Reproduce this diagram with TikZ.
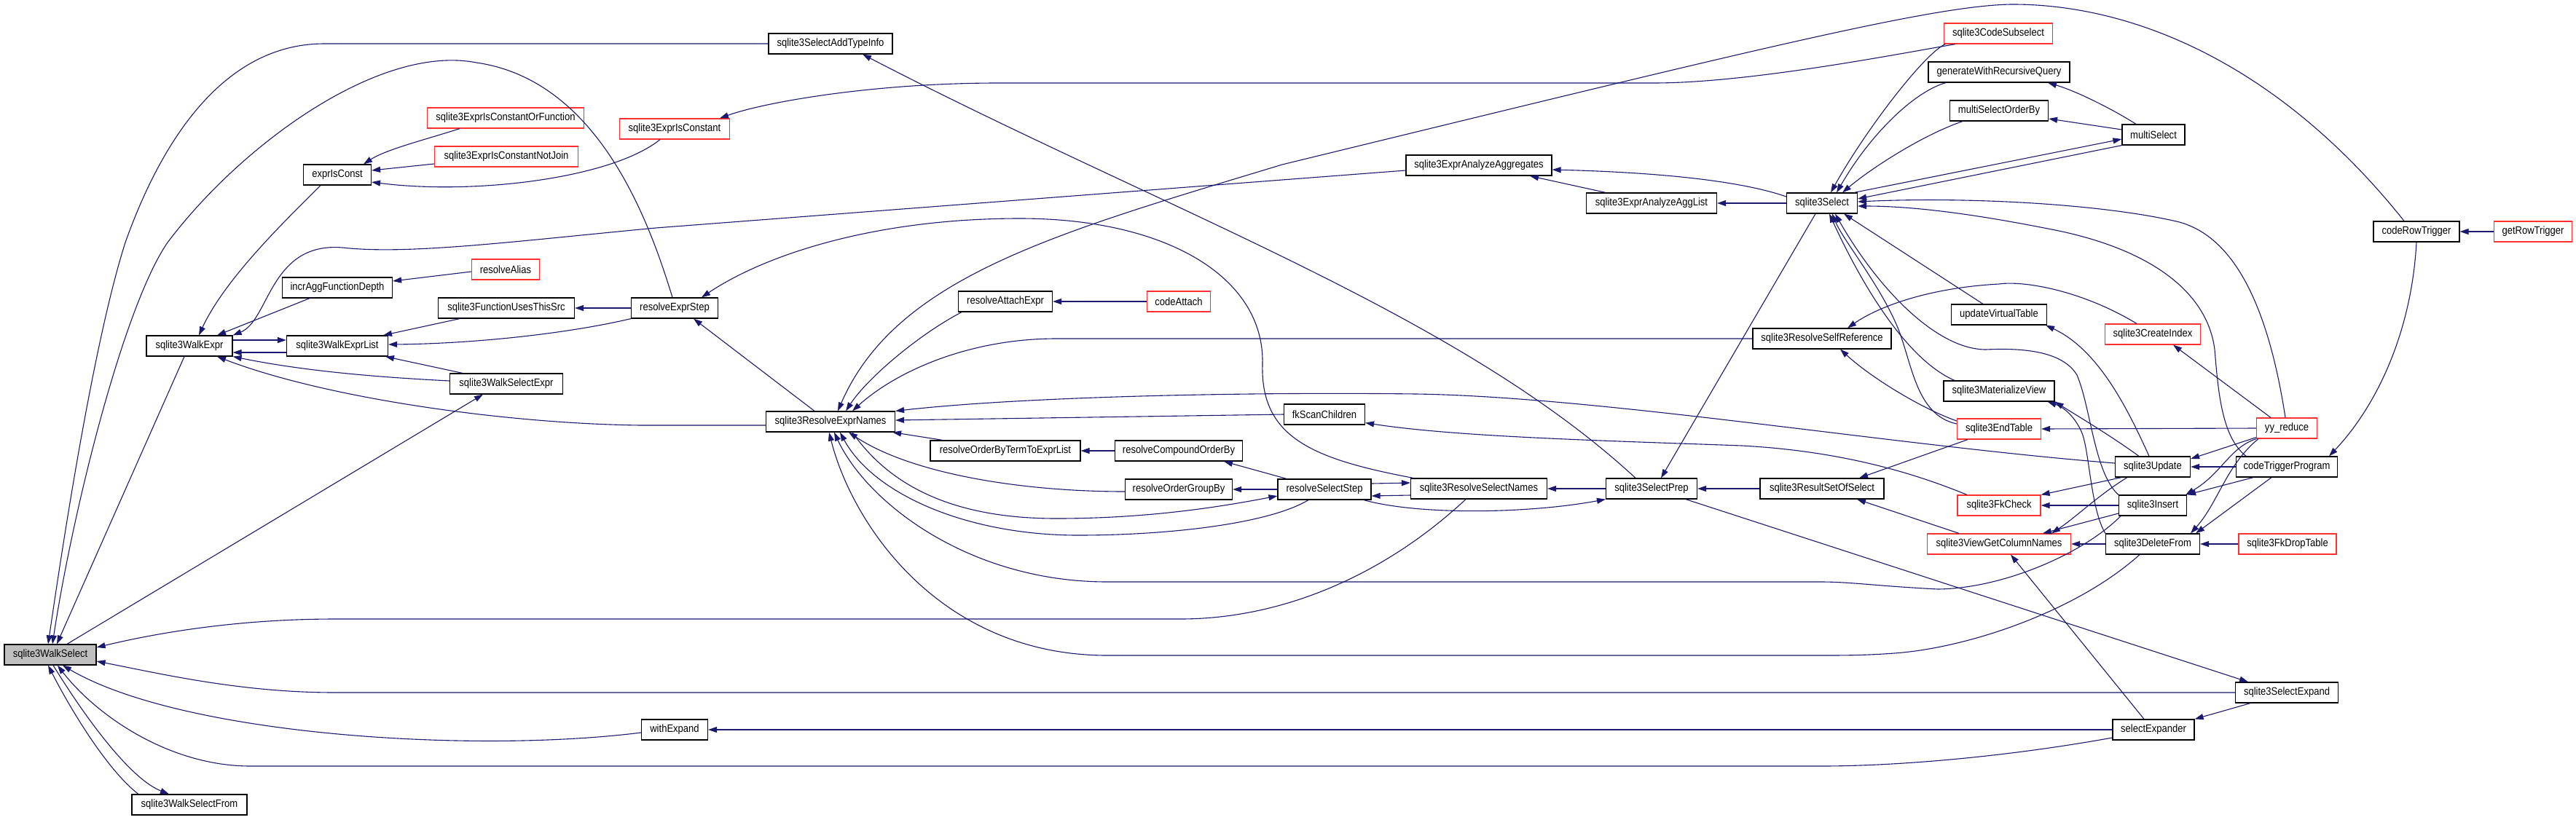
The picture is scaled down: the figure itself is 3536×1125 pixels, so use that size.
\documentclass[tikz,border=0pt]{standalone}
\usepackage{fontspec}
\setmainfont{Liberation Sans}[FakeStretch=0.88]
\usetikzlibrary{arrows.meta}
\definecolor{navy}{HTML}{191970}
\definecolor{nred}{HTML}{FF3030}
\definecolor{ngray}{HTML}{BFBFBF}
\tikzset{
 nb/.style={draw=black, fill=white, line width=1.2pt, minimum height=28pt, inner sep=0pt, font=\fontsize{14.8}{16}\selectfont},
 nr/.style={nb, draw=nred},
 e/.style={draw=navy, line width=1.1pt, -{Triangle[length=12pt,width=8pt]}}
}
\begin{document}
\begin{tikzpicture}[x=1pt,y=-1pt]
\fill[white] (0,0) rectangle (3536,1125);
\useasboundingbox (0,0) rectangle (3536,1125);
% nodes
\node[nb, fill=ngray, minimum width=126pt] (ws) at (69,899) {sqlite3WalkSelect};
\node[nb, minimum width=158pt] (wsf) at (260,1105) {sqlite3WalkSelectFrom};
\node[nb, minimum width=118pt] (we) at (260,475) {sqlite3WalkExpr};
\node[nb, minimum width=93pt] (eic) at (463,240) {exprIsConst};
\node[nb, minimum width=151pt] (iafd) at (463,395) {incrAggFunctionDepth};
\node[nb, minimum width=139pt] (wel) at (463,475) {sqlite3WalkExprList};
\node[nr, minimum width=215pt] (cof) at (694,162) {sqlite3ExprIsConstantOrFunction};
\node[nr, minimum width=197pt] (cnj) at (695,215) {sqlite3ExprIsConstantNotJoin};
\node[nr, minimum width=93pt] (ra) at (694,370) {resolveAlias};
\node[nb, minimum width=187pt] (futs) at (695,423) {sqlite3FunctionUsesThisSrc};
\node[nb, minimum width=155pt] (wse) at (695,527) {sqlite3WalkSelectExpr};
\node[nr, minimum width=151pt] (eicn) at (926,177) {sqlite3ExprIsConstant};
\node[nb, minimum width=119pt] (res) at (926,423) {resolveExprStep};
\node[nb, minimum width=91pt] (wex) at (926,1002) {withExpand};
\node[nb, minimum width=170pt] (sat) at (1140,60) {sqlite3SelectAddTypeInfo};
\node[nb, minimum width=177pt] (ren) at (1140,579) {sqlite3ResolveExprNames};
\node[nb, minimum width=129pt] (rae) at (1380,414) {resolveAttachExpr};
\node[nb, minimum width=206pt] (robt) at (1380,619) {resolveOrderByTermToExprList};
\node[nr, minimum width=87pt] (ca) at (1618,414) {codeAttach};
\node[nb, minimum width=175pt] (rcob) at (1618,619) {resolveCompoundOrderBy};
\node[nb, minimum width=147pt] (rogb) at (1618,672) {resolveOrderGroupBy};
\node[nb, minimum width=111pt] (fksc) at (1818,569) {fkScanChildren};
\node[nb, minimum width=128pt] (rss) at (1818,672) {resolveSelectStep};
\node[nb, minimum width=200pt] (agg) at (2030,227) {sqlite3ExprAnalyzeAggregates};
\node[nb, minimum width=187pt] (rsn) at (2030,671) {sqlite3ResolveSelectNames};
\node[nb, minimum width=179pt] (agl) at (2267,279) {sqlite3ExprAnalyzeAggList};
\node[nb, minimum width=125pt] (sp) at (2267,671) {sqlite3SelectPrep};
\node[nb, minimum width=97pt] (sel) at (2501,279) {sqlite3Select};
\node[nb, minimum width=190pt] (rsr) at (2501,465) {sqlite3ResolveSelfReference};
\node[nb, minimum width=170pt] (rsos) at (2501,671) {sqlite3ResultSetOfSelect};
\node[nr, minimum width=149pt] (csub) at (2743,46) {sqlite3CodeSubselect};
\node[nb, minimum width=194pt] (gwr) at (2744,99) {generateWithRecursiveQuery};
\node[nb, minimum width=135pt] (msob) at (2744,152) {multiSelectOrderBy};
\node[nb, minimum width=86pt] (msel) at (2956,185) {multiSelect};
\node[nb, minimum width=131pt] (uvt) at (2744,432) {updateVirtualTable};
\node[nr, minimum width=131pt] (ci) at (2955,459) {sqlite3CreateIndex};
\node[nb, minimum width=152pt] (mv) at (2744,537) {sqlite3MaterializeView};
\node[nr, minimum width=115pt] (et) at (2744,589) {sqlite3EndTable};
\node[nr, minimum width=83pt] (yy) at (3139,588) {yy\_reduce};
\node[nb, minimum width=103pt] (upd) at (2955,641) {sqlite3Update};
\node[nb, minimum width=139pt] (ctp) at (3139,641) {codeTriggerProgram};
\node[nr, minimum width=114pt] (fkc) at (2744,694) {sqlite3FkCheck};
\node[nb, minimum width=93pt] (ins) at (2955,694) {sqlite3Insert};
\node[nr, minimum width=197pt] (vgcn) at (2744,747) {sqlite3ViewGetColumnNames};
\node[nb, minimum width=129pt] (del) at (2955,747) {sqlite3DeleteFrom};
\node[nr, minimum width=134pt] (fdt) at (3140,747) {sqlite3FkDropTable};
\node[nb, minimum width=118pt] (crt) at (3317,318) {codeRowTrigger};
\node[nr, minimum width=107pt] (grt) at (3477,318) {getRowTrigger};
\node[nb, minimum width=141pt] (sexp) at (3139,951) {sqlite3SelectExpand};
\node[nb, minimum width=112pt] (sxr) at (2956,1002) {selectExpander};
% edges
\draw[e] (sat.west) -- (445,60) .. controls (320,60) and (230,170) .. (172,333) .. controls (125,480) and (80,790) .. ([xshift=-3pt]ws.north);
\draw[e] ([xshift=-3pt]res.north) .. controls (890,300) and (820,110) .. (654,86) .. controls (520,60) and (330,200) .. (230,333) .. controls (170,420) and (100,700) .. ([xshift=3pt]ws.north);
\draw[e] ([xshift=-7pt]we.south) -- ([xshift=9pt]ws.north);
\draw[e] ([xshift=23pt]ws.north) -- ([xshift=-32pt]wse.south);
\draw[e] ([xshift=-18pt]rsn.south) .. controls (1900,790) and (1760,850) .. (1620,850) -- (460,850) .. controls (330,850) and (220,868) .. ([yshift=10pt]ws.east);
\draw[e] (sexp.west) -- (460,951) .. controls (330,951) and (220,925) .. ([yshift=-9pt]ws.east);
\draw[e] ([yshift=-4pt]wex.west) .. controls (650,1035) and (250,1010) .. ([xshift=17pt]ws.south);
\draw[e] ([yshift=-11pt]sxr.west) .. controls (2750,1040) and (2600,1052) .. (2500,1052) -- (344,1052) .. controls (230,1052) and (130,980) .. ([xshift=10pt]ws.south);
\draw[e] ([xshift=-70pt]wsf.north) .. controls (150,1060) and (100,980) .. ([xshift=-3pt]ws.south);
\draw[e] ([xshift=4pt]ws.south) .. controls (120,990) and (180,1070) .. ([xshift=-28pt]wsf.north);
\draw[e] ([xshift=-23pt]eic.south) .. controls (400,295) and (310,380) .. ([xshift=13pt]we.north);
\draw[e] ([xshift=-38pt]iafd.south) -- ([xshift=38pt]we.north);
\draw[e] ([yshift=-7pt]agg.west) -- (900,313) .. controls (700,332) and (560,350) .. (470,340) .. controls (370,332) and (370,440) .. (we.north east);
\draw[e] ([yshift=-9pt]wel.west) -- ([yshift=-9pt]we.east);
\draw[e] ([yshift=8pt]we.east) -- ([yshift=8pt]wel.west);
\draw[e] ([yshift=4pt]wse.west) .. controls (520,518) and (420,510) .. (we.south east);
\draw[e] ([yshift=-5pt]ren.west) -- (880,584) .. controls (700,582) and (450,548) .. ([xshift=38pt]we.south);
\draw[e] ([xshift=-60pt]wse.north) -- ([xshift=66pt]wel.south);
\draw[e] ([xshift=-64pt]futs.south) -- ([xshift=63pt]wel.north);
\draw[e] (res.south west) .. controls (780,458) and (650,472) .. ([yshift=2pt]wel.east);
\draw[e] (res.west) -- (futs.east);
\draw[e] ([xshift=-63pt]cof.south) .. controls (590,190) and (530,205) .. ([xshift=36pt]eic.north);
\draw[e] ([yshift=-10pt]cnj.west) -- ([yshift=6pt]eic.east);
\draw[e] ([xshift=-20pt]eicn.south) .. controls (840,245) and (650,268) .. ([yshift=-10pt]eic.east);
\draw[e] ([yshift=-3pt]ra.west) -- ([yshift=9pt]iafd.east);
\draw[e] ([xshift=-59pt]csub.south) .. controls (2600,75) and (2400,114) .. (2270,114) -- (1370,114) .. controls (1200,114) and (1050,140) .. ([xshift=62pt]eicn.north);
\draw[e] ([xshift=-22pt]sp.north) .. controls (2000,430) and (1600,290) .. ([xshift=44pt]sat.south);
\draw[e] ([xshift=-90pt]rsn.north) .. controls (1800,630) and (1730,600) .. (1733,500) .. controls (1736,380) and (1600,300) .. (1400,300) .. controls (1200,300) and (1050,350) .. ([xshift=37pt]res.north);
\draw[e] ([xshift=-22pt]ren.north) -- ([xshift=26pt]res.south);
\draw[e] ([xshift=-17pt]crt.north) .. controls (3130,90) and (2930,5) .. (2760,6) .. controls (2650,8) and (2400,70) .. (1760,226) .. controls (1450,320) and (1230,380) .. ([xshift=10pt]ren.north);
\draw[e] ([xshift=-60pt]rae.south) .. controls (1260,460) and (1190,520) .. ([xshift=21pt]ren.north);
\draw[e] (rsr.west) -- (1450,465) .. controls (1330,465) and (1230,510) .. ([xshift=30pt]ren.north);
\draw[e] ([yshift=5pt]upd.west) .. controls (2600,612) and (2200,545) .. (1944,541) .. controls (1700,538) and (1400,545) .. (ren.north east);
\draw[e] (fksc.west) -- ([yshift=2pt]ren.east);
\draw[e] ([xshift=-86pt]robt.north) -- ([xshift=-4pt]ren.south east);
\draw[e] ([yshift=-3pt]rogb.west) .. controls (1400,675) and (1250,650) .. ([xshift=25pt]ren.south);
\draw[e] ([xshift=30pt]ren.south) .. controls (1230,680) and (1330,712) .. (1450,712) .. controls (1580,712) and (1680,695) .. ([yshift=-9pt]rss.west);
\draw[e] ([xshift=-22pt]rss.south) .. controls (1740,720) and (1600,735) .. (1480,735) .. controls (1330,735) and (1200,680) .. ([xshift=13pt]ren.south);
\draw[e] ([xshift=-44pt]ins.south) .. controls (2860,760) and (2750,808) .. (2660,809) .. controls (2580,805) and (2540,799) .. (2500,799) -- (1520,799) .. controls (1330,799) and (1190,690) .. ([xshift=5pt]ren.south);
\draw[e] ([xshift=-18pt]del.south) .. controls (2850,840) and (2700,890) .. (2600,897) .. controls (2560,900) and (2530,900) .. (2500,900) -- (1520,900) .. controls (1290,900) and (1170,720) .. ([xshift=-2pt]ren.south);
\draw[e] (ca.west) -- (rae.east);
\draw[e] (rcob.west) -- (robt.east);
\draw[e] ([xshift=-52pt]rss.north) -- ([xshift=62pt]rcob.south);
\draw[e] (rss.west) -- (rogb.east);
\draw[e] ([yshift=8pt]rss.east) -- ([yshift=8pt]rsn.west);
\draw[e] ([yshift=-9pt]rsn.west) -- ([yshift=-9pt]rss.east);
\draw[e] ([xshift=54pt]rss.south) .. controls (1950,708) and (2100,705) .. (sp.south west);
\draw[e] (sp.west) -- (rsn.east);
\draw[e] (rsos.west) -- (sp.east);
\draw[e] ([xshift=-9pt]sel.south) -- ([xshift=13pt]sp.north);
\draw[e] ([xshift=47pt]sp.south) -- ([xshift=-53pt]sexp.north);
\draw[e] ([xshift=-63pt]agl.north) -- ([xshift=70pt]agg.south);
\draw[e] ([yshift=9pt]sel.west) .. controls (2380,245) and (2250,236) .. ([yshift=-6pt]agg.east);
\draw[e] (sel.west) -- (agl.east);
\draw[e] ([xshift=-73pt]csub.south) .. controls (2640,75) and (2560,180) .. ([xshift=12pt]sel.north);
\draw[e] ([xshift=-73pt]gwr.south) .. controls (2630,125) and (2570,180) .. ([xshift=20pt]sel.north);
\draw[e] ([xshift=-50pt]msob.south) .. controls (2640,185) and (2570,230) .. ([xshift=28pt]sel.north);
\draw[e] ([xshift=-5pt]sel.north east) -- ([yshift=-6pt]msel.west);
\draw[e] (msel.south west) -- ([yshift=6pt]sel.east);
\draw[e] ([xshift=-24pt]msel.north) .. controls (2900,150) and (2850,125) .. ([xshift=67pt]gwr.south);
\draw[e] ([yshift=7pt]msel.west) -- ([yshift=-11pt]msob.east);
\draw[e] ([xshift=-2pt]yy.north) .. controls (3115,430) and (3070,320) .. (2983,303) .. controls (2880,280) and (2700,270) .. ([yshift=2pt]sel.east);
\draw[e] ([xshift=-56pt]ctp.north) .. controls (3050,600) and (3045,540) .. (3040,480) .. controls (3030,400) and (2950,340) .. (2811,314) .. controls (2700,292) and (2620,283) .. ([yshift=-4pt]sel.east);
\draw[e] ([xshift=-22pt]uvt.north) -- ([xshift=30pt]sel.south);
\draw[e] ([xshift=-61pt]mv.north) .. controls (2620,495) and (2560,400) .. ([xshift=10pt]sel.south);
\draw[e] ([yshift=7pt]et.west) .. controls (2630,570) and (2625,500) .. (2605,450) .. controls (2580,390) and (2530,330) .. ([xshift=14pt]sel.south);
\draw[e] (ins.north west) .. controls (2875,650) and (2870,560) .. (2851,515) .. controls (2830,480) and (2770,478) .. (2726,480) .. controls (2660,480) and (2580,400) .. ([xshift=18pt]sel.south);
\draw[e] ([xshift=-22pt]ci.north) .. controls (2860,400) and (2780,385) .. (2744,390) .. controls (2650,395) and (2580,420) .. ([xshift=35pt]rsr.north);
\draw[e] ([yshift=11pt]et.west) .. controls (2640,562) and (2570,520) .. ([xshift=25pt]rsr.south);
\draw[e] ([xshift=-5pt]upd.north) .. controls (2920,560) and (2880,480) .. ([xshift=-2pt]uvt.south east);
\draw[e] ([xshift=-22pt]yy.north) -- ([xshift=28pt]ci.south);
\draw[e] ([xshift=-19pt]upd.north) .. controls (2900,600) and (2850,570) .. (mv.south east);
\draw[e] (del.north west) .. controls (2870,700) and (2868,620) .. (2858,595) .. controls (2850,575) and (2835,560) .. ([xshift=-10pt]mv.south east);
\draw[e] (yy.west) -- (et.east);
\draw[e] ([xshift=-43pt]et.south) -- ([xshift=51pt]rsos.north);
\draw[e] ([xshift=-55pt]vgcn.north) -- ([xshift=48pt]rsos.south);
\draw[e] ([xshift=-44pt]fkc.north) .. controls (2640,655) and (2540,620) .. (2391,612) .. controls (2200,605) and (2000,600) .. ([yshift=3pt]fksc.south east);
\draw[e] ([yshift=2pt]yy.south west) -- ([yshift=11pt]upd.east);
\draw[e] (ctp.west) -- (upd.east);
\draw[e] (yy.south west) .. controls (3060,615) and (3050,650) .. ([xshift=-2pt]ins.north east);
\draw[e] ([xshift=-46pt]ctp.south) -- (ins.north east);
\draw[e] ([xshift=3pt]yy.south west) .. controls (3055,640) and (3045,690) .. ([xshift=52pt]del.north);
\draw[e] ([xshift=-21pt]ctp.south) -- ([xshift=59pt]del.north);
\draw[e] ([xshift=-43pt]upd.south) -- (fkc.north east);
\draw[e] (ins.west) -- (fkc.east);
\draw[e] ([xshift=-35pt]upd.south) .. controls (2880,680) and (2850,710) .. ([xshift=72pt]vgcn.north);
\draw[e] ([yshift=-11pt]ins.west) -- ([xshift=60pt]vgcn.north);
\draw[e] (del.west) -- (vgcn.east);
\draw[e] (fdt.west) -- (del.east);
\draw[e] (crt.south) .. controls (3310,460) and (3260,560) .. ([xshift=58pt]ctp.north);
\draw[e] (grt.west) -- (crt.east);
\draw[e] ([xshift=-13pt]sxr.north) -- ([xshift=16pt]vgcn.south);
\draw[e] ([xshift=-50pt]sexp.south) -- (sxr.north east);
\draw[e] (sxr.west) -- (wex.east);
\end{tikzpicture}
\end{document}
